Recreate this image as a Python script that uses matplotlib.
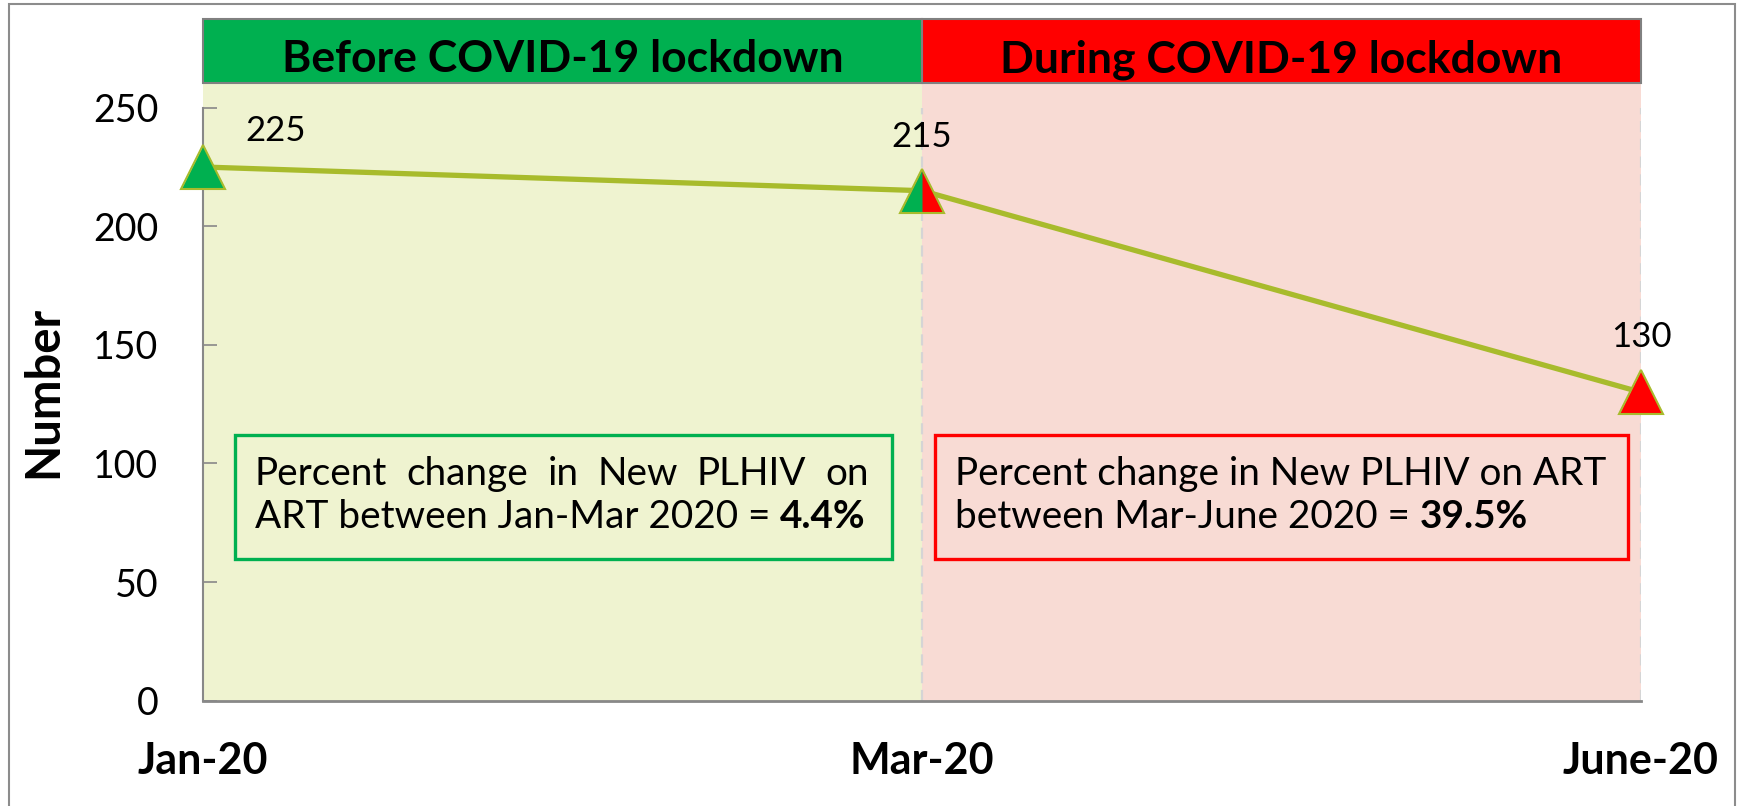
import matplotlib
matplotlib.use('Agg')
import matplotlib.pyplot as plt
from matplotlib.patches import Rectangle
import matplotlib.transforms as mtransforms

# ---------------- data ----------------
months = ['Jan-20', 'Mar-20', 'June-20']
values = [225, 215, 130]
period_titles = ['Before COVID-19 lockdown', 'During COVID-19 lockdown']
box_line1 = ['Percent change in New PLHIV on', 'Percent change in New PLHIV on ART']
box_line2 = ['ART between Jan-Mar 2020 = ', 'between Mar-June 2020 = ']
pct_changes = ['4.4%', '39.5%']
yticks = [0, 50, 100, 150, 200, 250]
ylabel = 'Number'

# ---------------- style ----------------
GREEN = '#00B050'
RED = '#FF0000'
LINE = '#A8BB2C'
BG_GREEN = '#EFF3D0'
BG_PINK = '#F8DBD4'
GRAY = '#888888'
FONT = 'Lato'
plt.rcParams['font.family'] = [FONT, 'DejaVu Sans']

W, H, DPI = 1741, 806, 100
fig = plt.figure(figsize=(W / DPI, H / DPI), dpi=DPI)
fig.patch.set_facecolor('white')


def fx(px):
    return px / W


def fy(py):
    return 1 - py / H


X0, X1 = 203, 1641
Y0, Y250 = 700.6, 107.7
HEAD_TOP, HEAD_BOT = 19, 83
ytop = 250 * (Y0 - HEAD_BOT) / (Y0 - Y250)

ax = fig.add_axes([fx(X0), fy(Y0), fx(X1) - fx(X0), fy(HEAD_BOT) - fy(Y0)])
ax.set_xlim(0, len(months) - 1)
ax.set_ylim(0, ytop)
ax.patch.set_alpha(0)

# outer border
fig.add_artist(Rectangle((fx(9), fy(830)), fx(1735) - fx(9), fy(4) - fy(830),
                         transform=fig.transFigure, fill=False,
                         edgecolor='#8C8C8C', lw=1.5))

# period backgrounds
ax.axvspan(0, 1, color=BG_GREEN, zorder=0, lw=0)
ax.axvspan(1, 2, color=BG_PINK, zorder=0, lw=0)
for xv in [1, 2]:
    ax.plot([xv, xv], [0, 250], ls=(0, (5, 3)), color='#D5D5D5', lw=1.6, zorder=1)

# header bars
trans = mtransforms.blended_transform_factory(ax.transData, fig.transFigure)
for i, (title, col) in enumerate(zip(period_titles, [GREEN, RED])):
    ax.add_patch(Rectangle((i, fy(HEAD_BOT)), 1, fy(HEAD_TOP) - fy(HEAD_BOT),
                           transform=trans, facecolor=col, edgecolor='#808080',
                           lw=1.5, clip_on=False, zorder=5))
    ax.text(i + 0.5, fy(72), title, transform=trans, ha='center', va='baseline',
            fontsize=32, fontweight='bold', color='black', zorder=6)

# spines & ticks
for s in ['top', 'right']:
    ax.spines[s].set_visible(False)
ax.spines['left'].set_bounds(0, 250)
ax.spines['left'].set_color(GRAY)
ax.spines['bottom'].set_color(GRAY)
ax.spines['left'].set_linewidth(1.5)
ax.spines['bottom'].set_linewidth(2)
ax.set_yticks(yticks)
ax.set_yticklabels([str(t) for t in yticks])
ax.tick_params(axis='y', direction='in', length=10, width=1.2, color=GRAY,
               labelsize=27, pad=32)
ax.set_xticks(range(len(months)))
ax.set_xticklabels(months, fontweight='bold')
ax.tick_params(axis='x', length=0, labelsize=31, pad=29)
ax.set_ylabel(ylabel, fontsize=34, fontweight='bold', labelpad=20)

# line + markers
xs = list(range(len(values)))
ax.plot(xs, values, color=LINE, lw=3.8, zorder=3, clip_on=False,
        solid_capstyle='butt')
left_col = [GREEN, GREEN, RED]
right_col = [GREEN, RED, RED]
for x, v, lc, rc in zip(xs, values, left_col, right_col):
    ax.plot(x, v, marker='^', ms=31, mfc=rc, mec='none', ls='none',
            zorder=4, clip_on=False)
    if lc != rc:
        ax.plot(x, v, marker='^', ms=31, mfc=lc, markerfacecoloralt='none',
                fillstyle='left', mec='none', ls='none', zorder=4.1,
                clip_on=False)
    ax.plot(x, v, marker='^', ms=31, mfc='none', mec=LINE, mew=1.5,
            ls='none', zorder=4.2, clip_on=False)

# data labels (offsets in points)
label_offsets = [(52, 26), (0, 39), (0, 40)]
for x, v, (dx, dy) in zip(xs, values, label_offsets):
    ax.annotate(str(v), (x, v), xytext=(dx, dy), textcoords='offset points',
                ha='center', va='center', fontsize=25, zorder=6)

# annotation boxes
boxes = [(235, 435, 892, 559, GREEN), (935, 435, 1628, 559, RED)]
for (l, t, r, b, col) in boxes:
    fig.add_artist(Rectangle((fx(l), fy(b)), fx(r) - fx(l), fy(t) - fy(b),
                             transform=fig.transFigure, fill=False,
                             edgecolor=col, lw=2.4, zorder=7))

renderer = fig.canvas.get_renderer()


def width_px(s, size, weight='normal'):
    t = fig.text(0, 0, s, fontsize=size, fontweight=weight)
    w = t.get_window_extent(renderer).width
    t.remove()
    return w


# fit box font size so red line 1 spans 955..1607
base = 20
box_size = base * (1607 - 955) / width_px(box_line1[1], base)
space_w = width_px('a a', box_size) - width_px('aa', box_size)

text_left = [255, 955]
just_right = [869, None]
BASE1, BASE2 = 485, 528
for i in range(2):
    # line 1
    if just_right[i] is not None:
        words = box_line1[i].split(' ')
        ws = [width_px(w, box_size) for w in words]
        gap = (just_right[i] - text_left[i] - sum(ws)) / (len(words) - 1)
        xcur = text_left[i]
        for w, wd in zip(words, ws):
            fig.text(fx(xcur), fy(BASE1), w, fontsize=box_size, va='baseline',
                     ha='left', zorder=8)
            xcur += wd + gap
    else:
        fig.text(fx(text_left[i]), fy(BASE1), box_line1[i], fontsize=box_size,
                 va='baseline', ha='left', zorder=8)
    # line 2 with bold percent
    first = box_line2[i].rstrip()
    fig.text(fx(text_left[i]), fy(BASE2), first, fontsize=box_size,
             va='baseline', ha='left', zorder=8)
    xb = text_left[i] + width_px(first, box_size) + space_w
    fig.text(fx(xb), fy(BASE2), pct_changes[i], fontsize=box_size,
             fontweight='bold', va='baseline', ha='left', zorder=8)

fig.savefig('out.png', dpi=DPI)
